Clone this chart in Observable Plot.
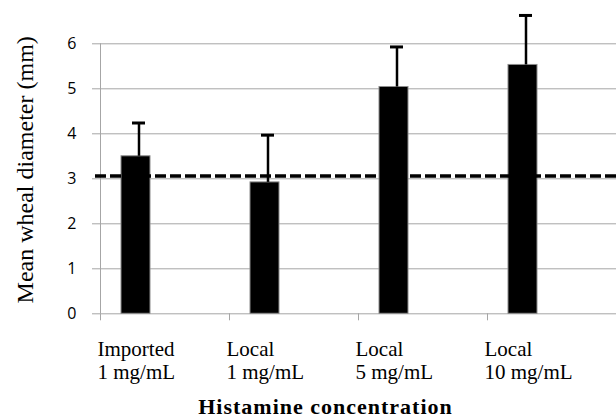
<!DOCTYPE html>
<html><head><meta charset="utf-8">
<script src="https://cdn.jsdelivr.net/npm/d3@7"></script>
<script src="https://cdn.jsdelivr.net/npm/@observablehq/plot@0.6"></script>
<style>html,body{margin:0;padding:0;background:#fff} #chart svg{display:block}</style>
</head><body><div id="chart"></div>
<script>
const categories = ["Imported\n1 mg/mL", "Local\n1 mg/mL", "Local\n5 mg/mL", "Local\n10 mg/mL"];
const means = [3.50, 2.92, 5.04, 5.53];
const upper = [4.24, 3.97, 5.93, 6.63];
const referenceLine = [3.06];
const yTicks = [0, 1, 2, 3, 4, 5, 6];
const yLabel = "Mean wheal diameter (mm)";
const xLabel = "Histamine concentration";

const W = 616, H = 416, mL = 100, mR = 0, mT = 43.3, mB = 102.7;
const bw = (W - mL - mR) / categories.length;
const data = categories.map((c, i) => ({cat: c, mean: means[i], upper: upper[i]}));
const gray = "#a6a6a6";
const serif = "'Liberation Serif', 'Times New Roman', serif";

const chart = Plot.plot({
  width: W, height: H,
  marginLeft: mL, marginRight: mR, marginTop: mT, marginBottom: mB,
  style: {background: "#fff", overflow: "visible"},
  x: {domain: categories, padding: 0, axis: null},
  y: {domain: [0, 6], axis: null},
  marks: [
    Plot.ruleY(yTicks, {y: d => d, stroke: gray, strokeWidth: 1, insetLeft: -8}),
    Plot.ruleX([categories[0]], {x: d => d, dx: -bw / 2, y1: 0, y2: 6, stroke: gray}),
    Plot.tickX(categories, {x: d => d, dx: -bw / 2, stroke: gray, strokeWidth: 1,
      insetTop: H - mT - mB, insetBottom: -7}),
    Plot.text(yTicks, {y: d => d, frameAnchor: "left", dx: -24, textAnchor: "end",
      fontSize: 16, fontFamily: "'Open Sans', sans-serif", fill: "#000"}),
    Plot.barY(data, {x: "cat", y: "mean", fill: "#000", stroke: "#8c8c8c", strokeWidth: 1,
      insetLeft: 21, insetRight: bw - 50}),
    Plot.ruleY(referenceLine, {y: d => d, stroke: "#000", strokeWidth: 3.5,
      strokeDasharray: "11,4", insetLeft: -5}),
    Plot.ruleX(data, {x: "cat", y1: "mean", y2: "upper", dx: -26, stroke: "#000", strokeWidth: 2.5}),
    Plot.tickY(data, {x: "cat", y: "upper", stroke: "#000", strokeWidth: 3,
      insetLeft: 32, insetRight: bw - 45}),
    Plot.text(data, {x: "cat", text: "cat", frameAnchor: "bottom", dx: -bw / 2 - 3, dy: 25.7,
      lineAnchor: "top", textAnchor: "start", lineHeight: 1.1,
      fontSize: 21, fontFamily: serif, fill: "#000"}),
    Plot.text([xLabel], {frameAnchor: "bottom", dx: -33, dy: 84.5, lineAnchor: "top",
      textAnchor: "middle",
      fontSize: 22, fontWeight: "bold", fontFamily: serif, fill: "#000", className: "xtitle"}),
    Plot.text([yLabel], {frameAnchor: "left", dx: -75, dy: -9, rotate: -90,
      textAnchor: "middle", lineAnchor: "middle",
      fontSize: 24, fontFamily: serif, fill: "#000"})
  ]
});
d3.select(chart).selectAll(".xtitle text").style("letter-spacing", "1px");
document.getElementById("chart").appendChild(chart);
</script>
</body></html>
